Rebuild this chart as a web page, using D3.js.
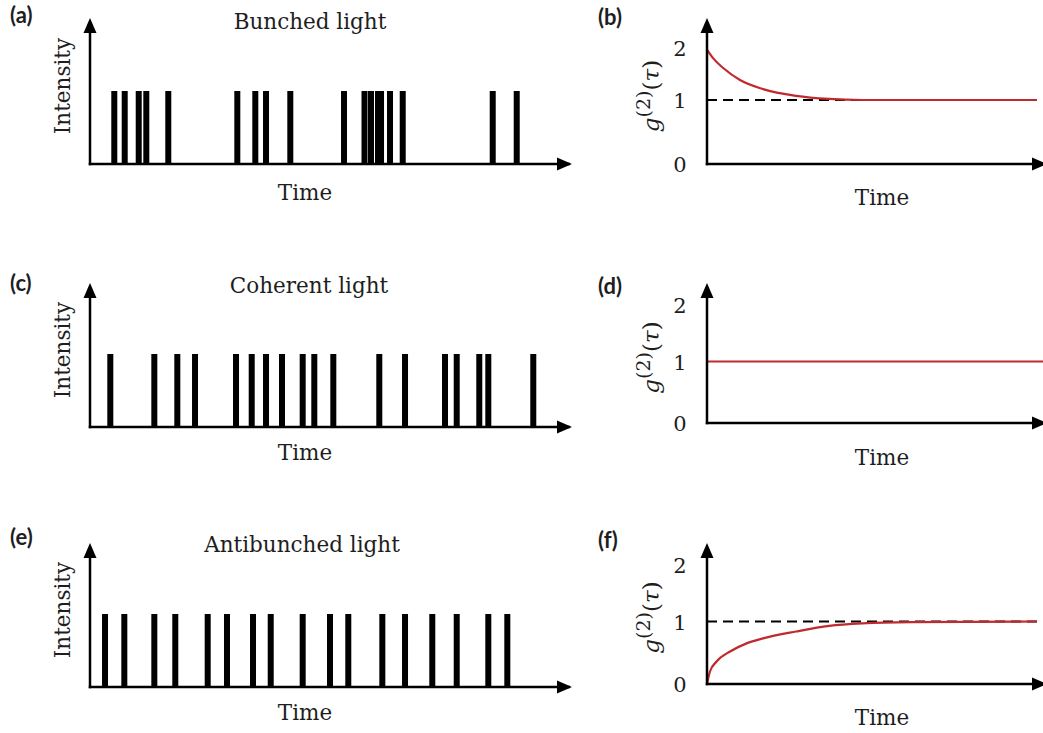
<!DOCTYPE html>
<html>
<head>
<meta charset="utf-8">
<script src="https://cdn.jsdelivr.net/npm/d3@7"></script>
<style>
  html, body { margin: 0; padding: 0; background: #fff; }
  svg { display: block; }
</style>
</head>
<body>
<svg id="chart" width="1043" height="733"></svg>
<script>
// ---------------- DATA ----------------
// photon arrival times (arbitrary time units, 0..100)
const bunchedTimes = [5.06, 7.23, 10.15, 11.73, 16.31, 30.69, 34.44, 36.67, 41.73, 52.92, 57.19, 58.54, 60.0, 60.63, 62.5, 65.15, 83.9, 88.9];
const coherentTimes = [4.23, 13.40, 18.19, 21.88, 30.42, 33.69, 36.67, 40.0, 44.31, 46.73, 50.69, 60.27, 65.63, 73.96, 76.40, 81.10, 82.98, 92.35];
const antibunchedTimes = [3.13, 7.15, 13.40, 17.77, 24.52, 28.54, 33.96, 37.65, 44.31, 50.0, 53.81, 60.90, 65.63, 71.31, 76.40, 82.98, 86.94];
const photonIntensity = 1;

// g2(tau) curves (time in arbitrary units 0..10)
const bunchedTau = [0, 0.19, 0.5, 1.0, 1.7, 2.7, 3.7, 4.7, 6.2, 10];
const bunchedG2  = [1.97, 1.80, 1.61, 1.385, 1.21, 1.08, 1.02, 1.0, 1.0, 1.0];
const coherentTau = [0, 10.3];
const coherentG2  = [1, 1];
const antibunchedTau = [0, 0.09, 0.29, 0.7, 1.2, 1.7, 2.7, 3.7, 4.7, 6.2, 10];
const antibunchedG2  = [0.0, 0.2, 0.36, 0.52, 0.65, 0.73, 0.84, 0.93, 0.97, 0.99, 1.0];
const referenceLevel = 1;
const dashedTau = [0, 10];

const g2Ticks = [0, 1, 2];
const panelLetters = ["(a)", "(b)", "(c)", "(d)", "(e)", "(f)"];
const titles = ["Bunched light", "Coherent light", "Antibunched light"];

// ---------------- LAYOUT ----------------
const svg = d3.select("#chart");
const SERIF = "'DejaVu Serif', serif";
const RED = "#bf2a2f";
const INK = "#1e1e1e";

const rows = [
  { axisY: 164, topY: 18, rAxisY: 164, rY1: 100, rY2: 48, titleX: 310, titleY: 29, letterY: 23, rLetterY: 25, timeY: 200, rTimeY: 205,
    times: bunchedTimes, tau: bunchedTau, g2: bunchedG2, dashed: true },
  { axisY: 427, topY: 283, rAxisY: 423, rY1: 361.5, rY2: 305, titleX: 309, titleY: 293, letterY: 291, rLetterY: 294, timeY: 460, rTimeY: 465,
    times: coherentTimes, tau: coherentTau, g2: coherentG2, dashed: false },
  { axisY: 687, topY: 543, rAxisY: 684, rY1: 621.5, rY2: 565, titleX: 302, titleY: 552, letterY: 545, rLetterY: 548, timeY: 720, rTimeY: 725,
    times: antibunchedTimes, tau: antibunchedTau, g2: antibunchedG2, dashed: true }
];

const leftX = d3.scaleLinear().domain([0, 100]).range([90, 570]);
const rightX = d3.scaleLinear().domain([0, 10]).range([707, 1037]);
const AXW = 2.5;

function arrowUp(g, x, tipY) {
  g.append("path").attr("d", `M${x},${tipY} L${x - 6.5},${tipY + 15} L${x + 6.5},${tipY + 15} Z`).attr("fill", "#000");
}
function arrowRight(g, tipX, y) {
  g.append("path").attr("d", `M${tipX},${y} L${tipX - 15},${y - 6.5} L${tipX - 15},${y + 6.5} Z`).attr("fill", "#000");
}

rows.forEach((r, i) => {
  // ---------- left panel ----------
  const gL = svg.append("g");
  const yI = d3.scaleLinear().domain([0, 1]).range([r.axisY, r.axisY - 73]);
  const bw = 6;
  gL.selectAll("rect.bar").data(r.times).join("rect")
    .attr("class", "bar")
    .attr("x", d => leftX(d) - bw / 2)
    .attr("width", bw)
    .attr("y", yI(photonIntensity))
    .attr("height", yI(0) - yI(photonIntensity))
    .attr("fill", "#000");

  const x0 = leftX.range()[0];
  gL.append("line").attr("x1", x0).attr("x2", x0).attr("y1", r.axisY + AXW / 2).attr("y2", r.topY + 10)
    .attr("stroke", "#000").attr("stroke-width", AXW);
  gL.append("line").attr("x1", x0 - AXW / 2).attr("x2", leftX.range()[1]).attr("y1", r.axisY).attr("y2", r.axisY)
    .attr("stroke", "#000").attr("stroke-width", AXW);
  arrowUp(gL, x0, r.topY);
  arrowRight(gL, leftX.range()[1] + 2, r.axisY);

  gL.append("text").attr("x", r.titleX).attr("y", r.titleY).attr("text-anchor", "middle")
    .attr("font-family", SERIF).attr("font-size", 21.5).attr("fill", INK).text(titles[i]);
  gL.append("text").attr("x", 305).attr("y", r.timeY).attr("text-anchor", "middle")
    .attr("font-family", SERIF).attr("font-size", 21.5).attr("fill", INK).text("Time");
  const iy = (r.axisY + r.topY) / 2 - 5;
  gL.append("text").attr("transform", `translate(70,${iy}) rotate(-90)`).attr("text-anchor", "middle")
    .attr("font-family", SERIF).attr("font-size", 21.5).attr("fill", INK).text("Intensity");
  gL.append("text").attr("x", 10).attr("y", r.letterY)
    .attr("font-family", "Lato, sans-serif").attr("font-weight", "bold").attr("font-size", 22).attr("fill", INK)
    .text(panelLetters[i * 2]);

  // ---------- right panel ----------
  const gR = svg.append("g");
  const yG = d3.scaleLinear().domain(g2Ticks).range([r.rAxisY, r.rY1, r.rY2]);
  const rx0 = rightX.range()[0];

  if (r.dashed) {
    gR.append("path").datum(dashedTau)
      .attr("d", d3.line().x(d => rightX(d)).y(() => yG(referenceLevel)))
      .attr("fill", "none").attr("stroke", "#000").attr("stroke-width", 2).attr("stroke-dasharray", "10,6");
  }
  const pts = r.tau.map((t, k) => [t, r.g2[k]]);
  gR.append("path").datum(pts)
    .attr("d", d3.line().x(d => rightX(d[0])).y(d => yG(d[1])).curve(d3.curveMonotoneX))
    .attr("fill", "none").attr("stroke", RED).attr("stroke-width", 2.2);

  gR.append("line").attr("x1", rx0).attr("x2", rx0).attr("y1", r.rAxisY + AXW / 2).attr("y2", r.topY + 10)
    .attr("stroke", "#000").attr("stroke-width", AXW);
  gR.append("line").attr("x1", rx0 - AXW / 2).attr("x2", 1040).attr("y1", r.rAxisY).attr("y2", r.rAxisY)
    .attr("stroke", "#000").attr("stroke-width", AXW);
  arrowUp(gR, rx0, r.topY);
  arrowRight(gR, 1047, r.rAxisY);

  const ax = gR.append("g").attr("transform", `translate(${rx0},0)`)
    .call(d3.axisLeft(yG).tickValues(g2Ticks).tickSize(0).tickFormat(d3.format("d")));
  ax.select(".domain").remove();
  ax.selectAll("text").attr("x", -27).attr("text-anchor", "middle").attr("dy", "0.36em")
    .attr("font-family", SERIF).attr("font-size", 21).attr("fill", INK);

  gR.append("text").attr("x", 882).attr("y", r.rTimeY).attr("text-anchor", "middle")
    .attr("font-family", SERIF).attr("font-size", 21.5).attr("fill", INK).text("Time");

  const lab = gR.append("text").attr("transform", `translate(659,${r.rY1 - 4}) rotate(-90)`).attr("text-anchor", "middle")
    .attr("font-family", SERIF).attr("font-size", 23).attr("fill", INK);
  lab.append("tspan").attr("font-style", "italic").text("g");
  lab.append("tspan").attr("dy", -9).attr("font-size", 19).text("(2)");
  lab.append("tspan").attr("dy", 9).text("(");
  lab.append("tspan").attr("font-style", "italic").text("τ");
  lab.append("tspan").text(")");

  gR.append("text").attr("x", 598).attr("y", r.rLetterY)
    .attr("font-family", "Lato, sans-serif").attr("font-weight", "bold").attr("font-size", 22).attr("fill", INK)
    .text(panelLetters[i * 2 + 1]);
});
</script>
</body>
</html>
